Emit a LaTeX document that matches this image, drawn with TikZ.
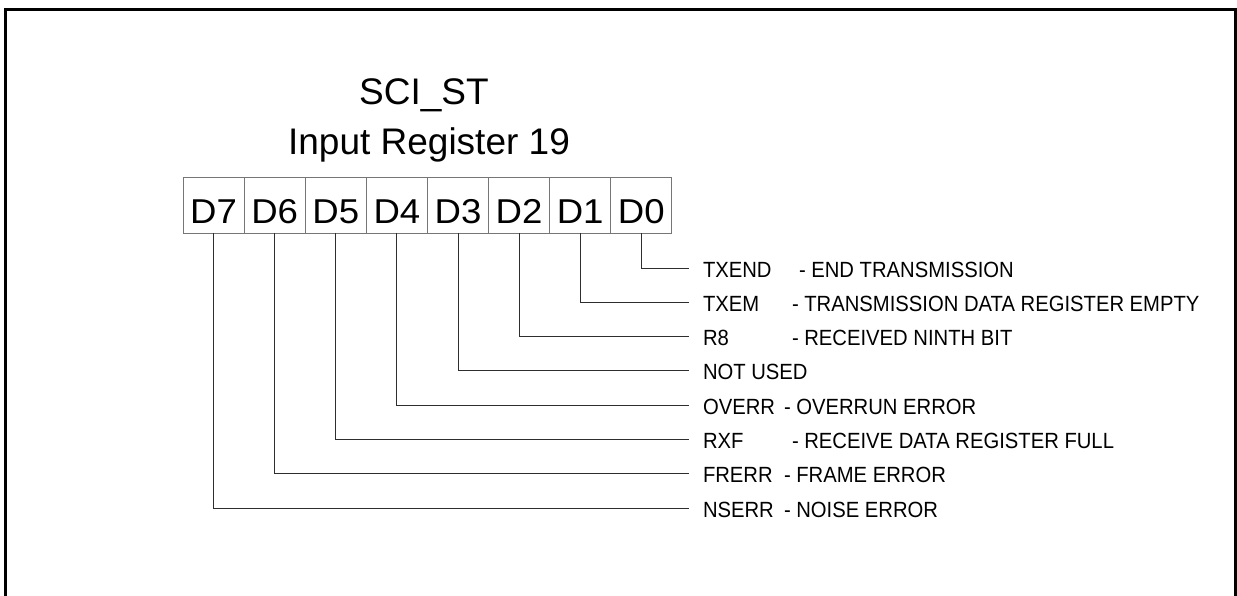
\documentclass[tikz,border=0pt]{standalone}
\usepackage{fontspec}
\setmainfont{Liberation Sans}
\newfontfamily\narrowfont{Liberation Sans}[FakeStretch=0.92]
\newfontfamily\widefont{Liberation Sans}[FakeStretch=1.06]
\usepackage{tikz}
\usetikzlibrary{positioning}
\usepackage{xcolor}
\definecolor{cellline}{HTML}{767676}
\definecolor{leadline}{HTML}{2E2E2E}
\tikzset{
  bitcell/.style={draw=cellline,line width=0.9pt,outer sep=0pt,minimum width=61.1pt,
    inner xsep=0pt,inner ysep=0pt,text height=47pt,text depth=9pt,
    font=\widefont\fontsize{34.5}{38}\selectfont},
  regtitle/.style={anchor=base,inner sep=0pt,font=\fontsize{37}{42}\selectfont},
  bitname/.style={anchor=west,inner xsep=14pt,inner ysep=0pt,outer sep=0pt,
    text height=18pt,text depth=0pt,font=\narrowfont\fontsize{22}{26}\selectfont},
  bitdesc/.style={bitname,inner xsep=0pt},
  lead/.style={draw=leadline,line width=1pt},
  frameline/.style={draw=black,line width=3pt}
}
\begin{document}
\begin{tikzpicture}[x=1pt,y=-1pt]
  \useasboundingbox (0,0) rectangle (1237,596);
  \draw[frameline] (5.5,596) -- (5.5,10) -- (1235.5,10) -- (1235.5,596);

  \node[regtitle] (sci) at (424,105) {SCI\_ST};
  \node[regtitle] (reg) at (429,155) {Input Register 19};

  \node[bitcell] (d7) at (213.6,205) {D7};
  \node[bitcell,right=0pt of d7] (d6) {D6};
  \node[bitcell,right=0pt of d6] (d5) {D5};
  \node[bitcell,right=0pt of d5] (d4) {D4};
  \node[bitcell,right=0pt of d4] (d3) {D3};
  \node[bitcell,right=0pt of d3] (d2) {D2};
  \node[bitcell,right=0pt of d2] (d1) {D1};
  \node[bitcell,right=0pt of d1] (d0) {D0};

  \node[bitname] (txend) at (689,268) {TXEND};
  \node[bitname] (txem) at (689,302.3) {TXEM};
  \node[bitname] (r8) at (689,336.6) {R8};
  \node[bitname] (notused) at (689,370.9) {NOT USED};
  \node[bitname] (overr) at (689,405.2) {OVERR};
  \node[bitname] (rxf) at (689,439.5) {RXF};
  \node[bitname] (frerr) at (689,473.8) {FRERR};
  \node[bitname] (nserr) at (689,508.1) {NSERR};

  \node[bitdesc] (txend-desc) at (799,268) {- END TRANSMISSION};
  \node[bitdesc] (txem-desc) at (792,302.3) {- TRANSMISSION DATA REGISTER EMPTY};
  \node[bitdesc] (r8-desc) at (792,336.6) {- RECEIVED NINTH BIT};
  \node[bitdesc] (overr-desc) at (784,405.2) {- OVERRUN ERROR};
  \node[bitdesc] (rxf-desc) at (792,439.5) {- RECEIVE DATA REGISTER FULL};
  \node[bitdesc] (frerr-desc) at (784,473.8) {- FRAME ERROR};
  \node[bitdesc] (nserr-desc) at (784,508.1) {- NOISE ERROR};

  \draw[lead] (d0.south) |- (txend.west);
  \draw[lead] (d1.south) |- (txem.west);
  \draw[lead] (d2.south) |- (r8.west);
  \draw[lead] (d3.south) |- (notused.west);
  \draw[lead] (d4.south) |- (overr.west);
  \draw[lead] (d5.south) |- (rxf.west);
  \draw[lead] (d6.south) |- (frerr.west);
  \draw[lead] (d7.south) |- (nserr.west);
\end{tikzpicture}
\end{document}
